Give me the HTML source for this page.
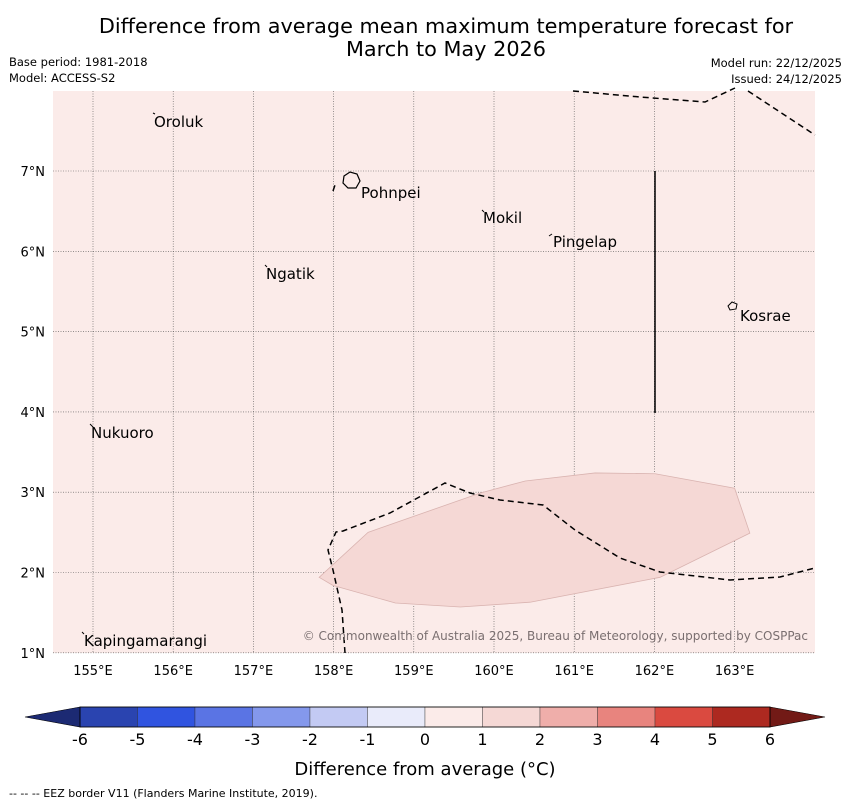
<!DOCTYPE html>
<html><head><meta charset="utf-8"><style>
body{margin:0;background:#fff;}
svg{display:block;font-family:"Liberation Sans","DejaVu Sans",sans-serif;}
</style></head><body>
<svg id="chart" width="850" height="804" viewBox="0 0 850 804">
<text x="446" y="33" font-size="20.8" text-anchor="middle" font-family="DejaVu Sans">Difference from average mean maximum temperature forecast for</text>
<text x="446" y="56" font-size="20.8" text-anchor="middle" font-family="DejaVu Sans">March to May 2026</text>
<text x="9" y="66" font-size="11.5" font-family="DejaVu Sans">Base period: 1981-2018</text>
<text x="9" y="82" font-size="11.5" font-family="DejaVu Sans">Model: ACCESS-S2</text>
<text x="842" y="67" font-size="11.5" text-anchor="end" font-family="DejaVu Sans">Model run: 22/12/2025</text>
<text x="842" y="83" font-size="11.5" text-anchor="end" font-family="DejaVu Sans">Issued: 24/12/2025</text>
<rect x="53" y="91" width="762" height="562" fill="#fbebe9"/>
<g id="grid"></g>
<g id="anomaly"></g>
<g id="eez" fill="none" stroke="#000" stroke-width="1.5" stroke-dasharray="6,4">
<path d="M345,653 L342,610 L333,570 L328,550 L336,532 L343,531 L390,513 L445,483 L470,493 L500,500 L543,505 L575,530 L620,558 L660,572 L730,580 L780,577 L815,568"/>
<path d="M573,91 L640,97 L705,102 L735,88"/>
<path d="M748,91 L815,135"/>
<path d="M333,191 L335,185"/>
</g>
<line x1="655" y1="171" x2="655" y2="413" stroke="#000" stroke-width="1.5"/>
<path d="M344,176 L350,172 L357,174 L360,181 L356,188 L348,188 L343,183 Z" fill="#fbebe9" stroke="#000" stroke-width="1.2"/>
<path d="M728,306 L732,302 L737,304 L736,309 L730,310 Z" fill="#fbebe9" stroke="#000" stroke-width="1"/>
<g stroke="#000" stroke-width="1">
<line x1="153" y1="113" x2="155" y2="114"/><line x1="482" y1="210" x2="484" y2="212"/><line x1="549" y1="236" x2="552" y2="234"/><line x1="265" y1="265" x2="267" y2="267"/><line x1="90" y1="424" x2="93" y2="427"/><line x1="82" y1="632" x2="84" y2="634"/>
</g>
<g font-size="15" font-family="DejaVu Sans">
<text x="154" y="127">Oroluk</text>
<text x="361" y="198">Pohnpei</text>
<text x="483" y="223">Mokil</text>
<text x="553" y="247">Pingelap</text>
<text x="266" y="279">Ngatik</text>
<text x="740" y="321">Kosrae</text>
<text x="91" y="438">Nukuoro</text>
<text x="84" y="646">Kapingamarangi</text>
</g>
<text x="808" y="640" font-size="12" fill="#7a6f70" text-anchor="end" font-family="DejaVu Sans">© Commonwealth of Australia 2025, Bureau of Meteorology, supported by COSPPac</text>
<g id="axes" font-size="13" font-family="DejaVu Sans"></g>
<g id="colorbar"></g>
<text x="425" y="775" font-size="18" text-anchor="middle" font-family="DejaVu Sans">Difference from average (°C)</text>
<text x="9" y="797" font-size="11" font-family="DejaVu Sans">--  --  -- EEZ border V11 (Flanders Marine Institute, 2019).</text>
</svg>
<script>
const lonTicks=[155,156,157,158,159,160,161,162,163];
const latTicks=[1,2,3,4,5,6,7];
const anomalyLon=[157.82,157.99,158.77,159.58,160.45,162.07,163.19,163.00,162.01,161.26,160.39,159.83,158.43];
const anomalyLat=[1.94,1.84,1.62,1.57,1.63,1.94,2.49,3.05,3.23,3.24,3.14,2.99,2.50];
const cbLevels=[-6,-5,-4,-3,-2,-1,0,1,2,3,4,5,6];
const cbColors=["#2a44b0","#3054e0","#5a74e4","#8498ec","#c3caf3","#e9ebfa","#fbebe9","#f5d8d5","#efaeaa","#e8847e","#da4a40","#ad2920"];
const NS="http://www.w3.org/2000/svg";
const X=lon=>93+(lon-155)*80.2;
const Y=lat=>171+(7-lat)*80.3;
const CB=v=>80+(v+6)*57.5;
function mk(tag,attrs,parent){const e=document.createElementNS(NS,tag);for(const k in attrs)e.setAttribute(k,attrs[k]);parent.appendChild(e);return e;}
const grid=document.getElementById('grid'),axes=document.getElementById('axes');
lonTicks.forEach(l=>{
 const ln=mk('line',{x1:X(l),x2:X(l),y1:91,y2:653,stroke:'#555','stroke-width':0.6,'stroke-dasharray':'1,1.5'},grid);
 
 
 const t=mk('text',{x:X(l),y:675,'text-anchor':'middle'},axes);t.textContent=l+'°E';
 
 
});
latTicks.forEach(l=>{
 const ln=mk('line',{x1:53,x2:815,y1:Y(l),y2:Y(l),stroke:'#555','stroke-width':0.6,'stroke-dasharray':'1,1.5'},grid);
 
 
 const t=mk('text',{x:45,y:Y(l)+5,'text-anchor':'end'},axes);t.textContent=l+'°N';
 
 
});
const pts=anomalyLon.map((l,i)=>X(l)+','+Y(anomalyLat[i])).join(' ');
const poly=mk('polygon',{points:pts,fill:'#f5d8d5',stroke:'#d9b3b0','stroke-width':0.8},document.getElementById('anomaly'));


const cb=document.getElementById('colorbar');
cbColors.forEach((c,i)=>{
 const r=mk('rect',{x:CB(cbLevels[i]),y:707,width:CB(cbLevels[i+1])-CB(cbLevels[i]),height:20,fill:c,stroke:'#333','stroke-width':0.4},cb);
 
 
});
const lt=mk('polygon',{points:`${CB(-6)},707 25,717 ${CB(-6)},727`,fill:'#1c2a73',stroke:'#000','stroke-width':0.6},cb);


const rt=mk('polygon',{points:`${CB(6)},707 825,717 ${CB(6)},727`,fill:'#721a16',stroke:'#000','stroke-width':0.6},cb);


const fr=mk('rect',{x:CB(-6),y:707,width:CB(6)-CB(-6),height:20,fill:'none',stroke:'#000','stroke-width':0.8},cb);


cbLevels.forEach(v=>{
 const t=mk('text',{x:CB(v),y:745,'text-anchor':'middle','font-size':16,'font-family':'DejaVu Sans'},cb);t.textContent=v;
 
 
});
</script>
</body></html>
